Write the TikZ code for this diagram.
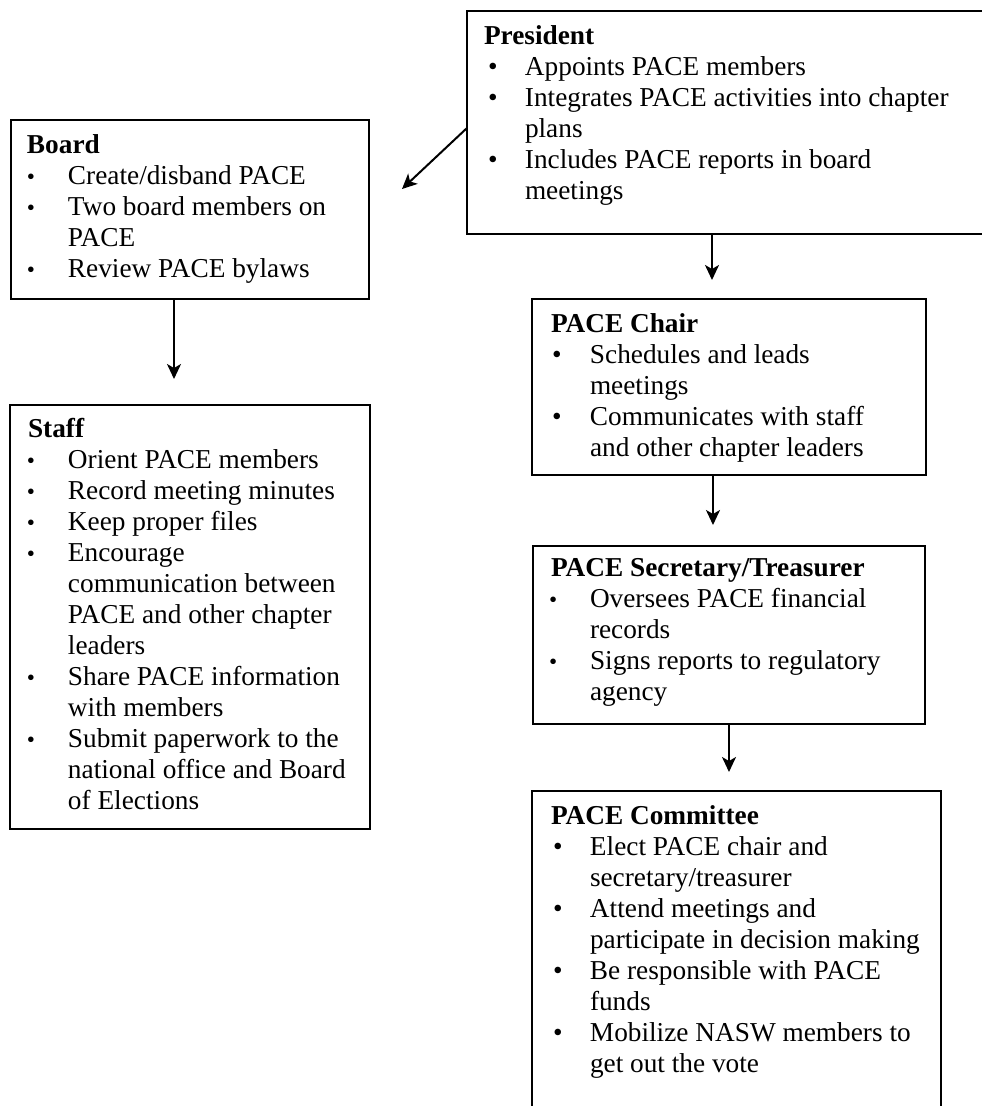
\documentclass[tikz,border=0pt]{standalone}
\usepackage{fontspec}
\usepackage{graphicx}
\setmainfont{Liberation Serif}
\usetikzlibrary{arrows.meta,calc}
\newcommand{\rbul}{\textbullet}
\newcommand{\sbul}{\raisebox{0.5pt}{\scalebox{0.85}{\textbullet}}}
% box content: width, height, top space, lines
\newcommand{\boxtxt}[4]{\parbox[t][#2][t]{#1}{\fontsize{27.3}{31}\selectfont\lineskiplimit=-50pt\lineskip=0pt
  \vspace*{#3}\noindent\rule{0pt}{20pt}#4}}
% item line: bullet offset, bullet, text offset, text
\newcommand{\itl}[4]{\hspace*{#1}\makebox[#3][l]{#2}#4}
\begin{document}
\begin{tikzpicture}[x=1pt,y=-1pt,
  box/.style={draw=black,line width=2.2pt,inner sep=0pt,outer sep=0pt,anchor=north west},
  arr/.style={draw=black,line width=2pt,-{Stealth[length=15pt,width=14pt,inset=4pt]}}]
\useasboundingbox[fill=white] (0,0) rectangle (982,1106);

\node[box] (pres) at (467,11) {\boxtxt{560pt}{223pt}{13pt}{%
\hspace*{17pt}\textbf{President}\\
\itl{21pt}{\rbul}{37pt}{Appoints PACE members}\\
\itl{21pt}{\rbul}{37pt}{Integrates PACE activities into chapter}\\
\hspace*{58pt}plans\\
\itl{21pt}{\rbul}{37pt}{Includes PACE reports in board}\\
\hspace*{58pt}meetings}};

\node[box] (board) at (11,120) {\boxtxt{358pt}{179pt}{13.5pt}{%
\hspace*{16pt}\textbf{Board}\\
\itl{16pt}{\sbul}{41pt}{Create/disband PACE}\\
\itl{16pt}{\sbul}{41pt}{Two board members on}\\
\hspace*{57pt}PACE\\
\itl{16pt}{\sbul}{41pt}{Review PACE bylaws}}};

\node[box] (staff) at (10,405) {\boxtxt{360pt}{424pt}{12.5pt}{%
\hspace*{18pt}\textbf{Staff}\\
\itl{17pt}{\sbul}{41pt}{Orient PACE members}\\
\itl{17pt}{\sbul}{41pt}{Record meeting minutes}\\
\itl{17pt}{\sbul}{41pt}{Keep proper files}\\
\itl{17pt}{\sbul}{41pt}{Encourage}\\
\hspace*{58pt}communication between\\
\hspace*{58pt}PACE and other chapter\\
\hspace*{58pt}leaders\\
\itl{17pt}{\sbul}{41pt}{Share PACE information}\\
\hspace*{58pt}with members\\
\itl{17pt}{\sbul}{41pt}{Submit paperwork to the}\\
\hspace*{58pt}national office and Board\\
\hspace*{58pt}of Elections}};

\node[box] (chair) at (532,299) {\boxtxt{394pt}{176pt}{13.5pt}{%
\hspace*{19pt}\textbf{PACE Chair}\\
\itl{20pt}{\rbul}{38pt}{Schedules and leads}\\
\hspace*{58pt}meetings\\
\itl{20pt}{\rbul}{38pt}{Communicates with staff}\\
\hspace*{58pt}and other chapter leaders}};

\node[box] (sec) at (533,546) {\boxtxt{392pt}{178pt}{10.5pt}{%
\hspace*{18pt}\textbf{PACE Secretary/Treasurer}\\
\itl{16pt}{\sbul}{41pt}{Oversees PACE financial}\\
\hspace*{57pt}records\\
\itl{16pt}{\sbul}{41pt}{Signs reports to regulatory}\\
\hspace*{57pt}agency}};

\node[box] (comm) at (532,791) {\boxtxt{409pt}{340pt}{13pt}{%
\hspace*{19pt}\textbf{PACE Committee}\\
\itl{21pt}{\rbul}{37pt}{Elect PACE chair and}\\
\hspace*{58pt}secretary/treasurer\\
\itl{21pt}{\rbul}{37pt}{Attend meetings and}\\
\hspace*{58pt}participate in decision making\\
\itl{21pt}{\rbul}{37pt}{Be responsible with PACE}\\
\hspace*{58pt}funds\\
\itl{21pt}{\rbul}{37pt}{Mobilize NASW members to}\\
\hspace*{58pt}get out the vote}};

\coordinate (tipA) at (402,189);
\coordinate (tipB) at (712,280);
\coordinate (tipC) at (174,379);
\coordinate (tipD) at (713,525);
\coordinate (tipE) at (729,772);

\draw[arr] ($(pres.north west)+(0,117)$) -- (tipA);
\draw[arr] (pres.south west -| tipB) -- (tipB);
\draw[arr] (board.south west -| tipC) -- (tipC);
\draw[arr] (chair.south west -| tipD) -- (tipD);
\draw[arr] (sec.south west -| tipE) -- (tipE);
\end{tikzpicture}
\end{document}
